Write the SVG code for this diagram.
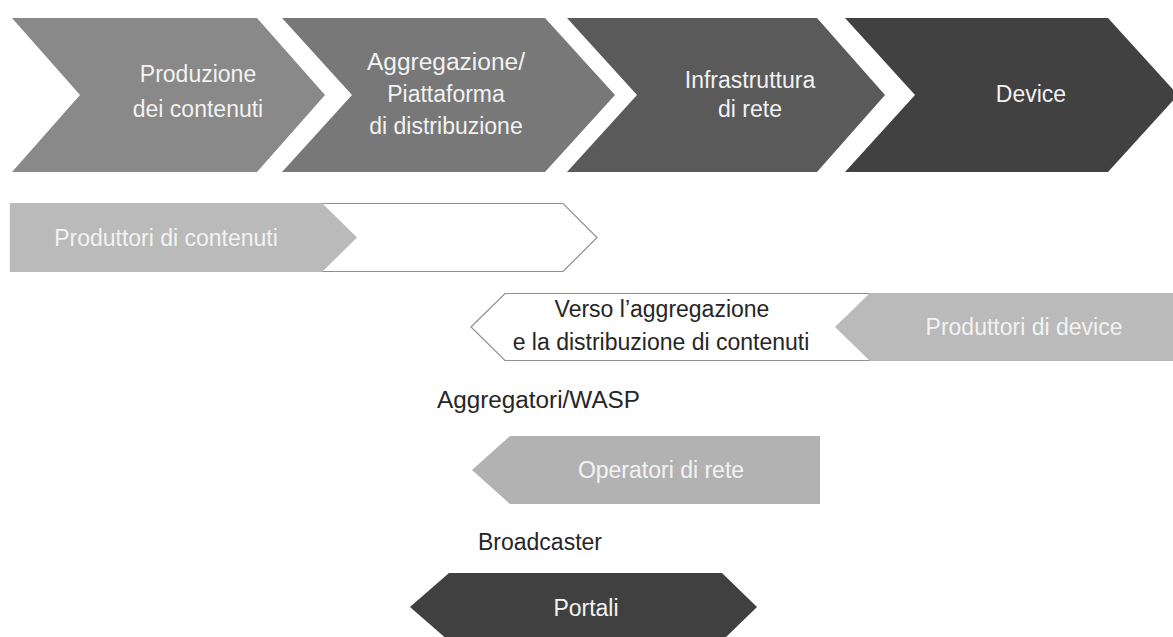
<svg xmlns="http://www.w3.org/2000/svg" width="1173" height="637" viewBox="0 0 1173 637">
  <style>
    text { font-family: "Liberation Sans", Arial, sans-serif; font-size: 23px; text-anchor: middle; }
    .light { fill: #f2f2f2; }
    .dark { fill: #262626; }
    .left { text-anchor: start; }
    .outline { fill: #ffffff; stroke: #8f8f8f; stroke-width: 1.2; }
  </style>

  <!-- value chain stages -->
  <g id="stage-produzione">
    <path d="M12,18 L257,18 L325,95 L257,172 L12,172 L80,95 Z" fill="#898989"/>
    <text class="light" x="198" y="82">Produzione</text>
    <text class="light" x="198" y="117">dei contenuti</text>
  </g>
  <g id="stage-aggregazione">
    <path d="M282,18 L545,18 L615,95 L545,172 L282,172 L352,95 Z" fill="#787878"/>
    <text class="light" x="446" y="70" textLength="158" lengthAdjust="spacingAndGlyphs">Aggregazione/</text>
    <text class="light" x="446" y="102">Piattaforma</text>
    <text class="light" x="446" y="134">di distribuzione</text>
  </g>
  <g id="stage-infrastruttura">
    <path d="M567,18 L817,18 L885,95 L817,172 L567,172 L637,95 Z" fill="#5a5a5a"/>
    <text class="light" x="750" y="88">Infrastruttura</text>
    <text class="light" x="750" y="117">di rete</text>
  </g>
  <g id="stage-device">
    <path d="M845,18 L1108,18 L1178,95 L1108,172 L845,172 L915,95 Z" fill="#414141"/>
    <text class="light" x="1031" y="102">Device</text>
  </g>

  <!-- players -->
  <g id="produttori-contenuti">
    <path class="outline" d="M10.5,203.5 L563,203.5 L597,237.5 L563,271.5 L10.5,271.5 Z"/>
    <path d="M10,203 L322,203 L357,237.5 L322,272 L10,272 Z" fill="#bababa"/>
    <text class="light" x="166" y="246">Produttori di contenuti</text>
  </g>

  <g id="produttori-device">
    <path class="outline" d="M471,327 L505,293.5 L1173,293.5 L1173,360.5 L505,360.5 Z"/>
    <text class="dark" x="662" y="317">Verso l’aggregazione</text>
    <text class="dark" x="661" y="350">e la distribuzione di contenuti</text>
    <path d="M870,293 L1173,293 L1173,361 L870,361 L835,327 Z" fill="#bababa"/>
    <text class="light" x="1024" y="335">Produttori di device</text>
  </g>

  <g id="aggregatori">
    <text class="dark left" x="437" y="408" textLength="203" lengthAdjust="spacingAndGlyphs">Aggregatori/WASP</text>
  </g>

  <g id="operatori-rete">
    <path d="M510,436 L820,436 L820,504 L510,504 L472,470 Z" fill="#b2b2b2"/>
    <text class="light" x="661" y="478">Operatori di rete</text>
  </g>

  <g id="broadcaster">
    <text class="dark left" x="478" y="550">Broadcaster</text>
  </g>

  <g id="portali">
    <path d="M410,607 L449,573 L722,573 L757,607 L722,641 L449,641 Z" fill="#404040"/>
    <text class="light" x="586" y="616">Portali</text>
  </g>
</svg>
